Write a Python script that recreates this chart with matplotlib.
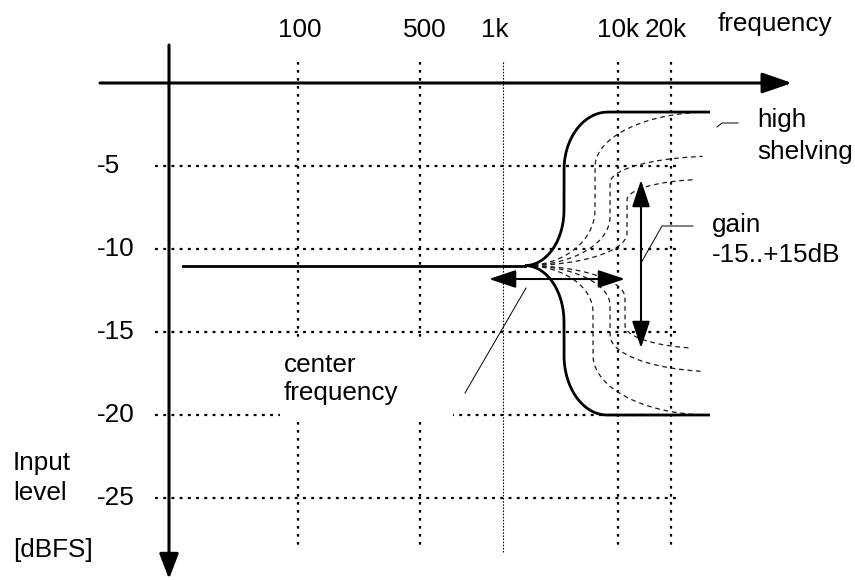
import matplotlib
matplotlib.use("Agg")
import matplotlib.pyplot as plt
from matplotlib.patches import Rectangle
import numpy as np

plt.rcParams['font.family'] = ['Liberation Sans', 'DejaVu Sans']

# frequency grid (schematic, not to scale) and level grid in dB
freq_labels = ['100', '500', '1k', '10k', '20k']
freq_x = [298, 420, 503, 618, 671]
freq_label_x = [300, 425, 495, 618, 666]
level_ticks = [-5, -10, -15, -20, -25]

# shelving curves: flat input level, then boost/cut to the shelf level
base_level = -11
branch_x = 525
shelf_mid_x = [564, 595, 610, 627, 564, 593, 610, 625]
shelf_knee_a = [-7.65, -7.65, -8.07, -9.04, -14.4, -13.8, -13.4, -12.95]
shelf_knee_b = [-5.24, -5.06, -6.02, -7.05, -16.4, -16.4, -15.2, -14.6]
shelf_level = [-1.75, -1.75, -4.4, -5.8, -20, -20, -17.4, -16.0]
shelf_flat_x = [608, 710, 720, 710, 607, 710, 720, 710]
shelf_end_x = [710, 708, 703, 695, 710, 708, 702, 693]
shelf_solid = [True, False, False, False, True, False, False, False]

PX = 16.6  # pixels per dB


def lv(py):
    # vertical pixel position -> level in dB
    return (83 - py) / PX


def shelf_curve(xc, ka, kb, top, xe, xend, n=80):
    t = np.linspace(0, np.pi / 2, n)
    xa = branch_x + (xc - branch_x) * np.sin(t)
    ya = base_level + (ka - base_level) * (1 - np.cos(t))
    xb = xc + (xe - xc) * (1 - np.cos(t))
    yb = kb + (top - kb) * np.sin(t)
    x = np.concatenate([xa, xb, [max(xe, xend)]])
    y = np.concatenate([ya, yb, [top]])
    m = x <= xend
    return x[m], y[m]


fig = plt.figure(figsize=(8.55, 5.8), dpi=100)
ax = fig.add_axes([0, 0, 1, 1])
ax.set_xlim(0, 855)
ax.set_ylim(lv(580), lv(0))
ax.axis('off')

FS = 18.8

# grid
for i, fx in enumerate(freq_x):
    if freq_labels[i] == '1k':
        ax.plot([fx, fx], [lv(62), lv(552)], color='k', lw=0.8, dashes=(1.4, 1.4), zorder=1)
    else:
        ax.plot([fx, fx], [lv(62), lv(550)], color='k', lw=1.6, dashes=(1.2, 2.4), zorder=1)
    ax.text(freq_label_x[i], lv(30), freq_labels[i], fontsize=FS, ha='center', va='center')

for lvl in level_ticks:
    ax.plot([155, 678], [lvl, lvl], color='k', lw=1.6, dashes=(1.3, 2.4), zorder=1)
    ax.text(97, lvl, str(lvl), fontsize=FS, ha='left', va='center')

# white box behind "center frequency"
ax.add_patch(Rectangle((280, lv(419)), 173, lv(338) - lv(419), facecolor='white',
                       edgecolor='none', zorder=2))

# axes arrows
ax.annotate('', xy=(792, 0), xytext=(100, 0),
            arrowprops=dict(arrowstyle='-|>,head_length=1.3,head_width=0.45',
                            lw=2.2, color='k', mutation_scale=14, shrinkA=0, shrinkB=0),
            zorder=5)
ax.annotate('', xy=(169, lv(579)), xytext=(169, lv(45)),
            arrowprops=dict(arrowstyle='-|>,head_length=1.1,head_width=0.42',
                            lw=2.2, color='k', mutation_scale=14, shrinkA=0, shrinkB=0),
            zorder=5)

# curves
ax.plot([183, branch_x], [base_level, base_level], color='k', lw=2, zorder=4)
for i in range(len(shelf_mid_x)):
    x, y = shelf_curve(shelf_mid_x[i], shelf_knee_a[i], shelf_knee_b[i],
                       shelf_level[i], shelf_flat_x[i], shelf_end_x[i])
    if shelf_solid[i]:
        ax.plot(x, y, color='k', lw=2, zorder=4, solid_capstyle='butt')
    else:
        ax.plot(x, y, color='#1a1a1a', lw=0.9, dashes=(3.8, 3.0), zorder=3)

# double arrows
ax.annotate('', xy=(625, lv(279)), xytext=(489, lv(279)),
            arrowprops=dict(arrowstyle='<|-|>,head_length=1.5,head_width=0.5',
                            lw=1.5, color='k', mutation_scale=11, shrinkA=0, shrinkB=0),
            zorder=5)
ax.annotate('', xy=(641, lv(180)), xytext=(641, lv(348)),
            arrowprops=dict(arrowstyle='<|-|>,head_length=1.5,head_width=0.5',
                            lw=1.5, color='k', mutation_scale=11, shrinkA=0, shrinkB=0),
            zorder=5)

# leader lines
ax.plot([717, 722, 738], [lv(127), lv(123), lv(123)], color='k', lw=0.7, zorder=5)
ax.plot([641, 662, 693], [lv(263), lv(226), lv(226)], color='k', lw=0.7, zorder=5)
ax.plot([465, 526], [lv(393), lv(288)], color='k', lw=0.7, zorder=5)

# texts
ax.text(718, lv(24), 'frequency', fontsize=FS, ha='left', va='center')
ax.text(757, lv(120), 'high', fontsize=FS, ha='left', va='center')
ax.text(757, lv(152), 'shelving', fontsize=FS, ha='left', va='center')
ax.text(712, lv(225), 'gain', fontsize=FS, ha='left', va='center')
ax.text(712, lv(255), '-15..+15dB', fontsize=FS, ha='left', va='center')
ax.text(284, lv(365), 'center', fontsize=FS, ha='left', va='center', zorder=6)
ax.text(284, lv(393), 'frequency', fontsize=FS, ha='left', va='center', zorder=6)
ax.text(13, lv(463), 'Input', fontsize=FS, ha='left', va='center')
ax.text(13, lv(493), 'level', fontsize=FS, ha='left', va='center')
ax.text(13, lv(550), '[dBFS]', fontsize=FS, ha='left', va='center')

fig.savefig('out.png', dpi=100)
